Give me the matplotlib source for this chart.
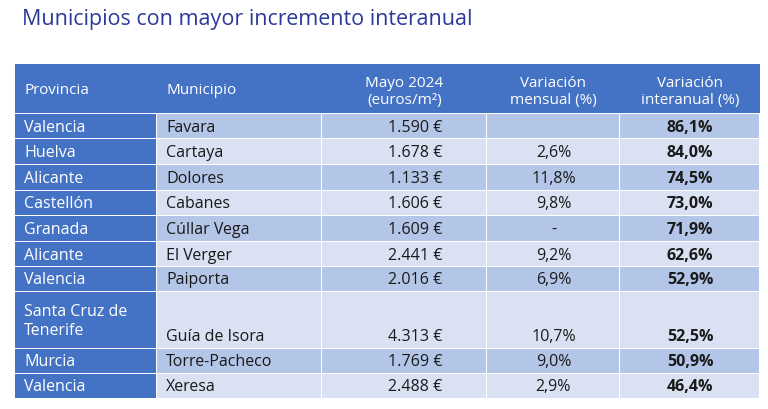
import matplotlib.pyplot as plt
from matplotlib.patches import Rectangle

provincias = ["Valencia", "Huelva", "Alicante", "Castellón", "Granada", "Alicante",
              "Valencia", "Santa Cruz de\nTenerife", "Murcia", "Valencia"]
municipios = ["Favara", "Cartaya", "Dolores", "Cabanes", "Cúllar Vega", "El Verger",
              "Paiporta", "Guía de Isora", "Torre-Pacheco", "Xeresa"]
precios = ["1.590 €", "1.678 €", "1.133 €", "1.606 €", "1.609 €", "2.441 €",
           "2.016 €", "4.313 €", "1.769 €", "2.488 €"]
var_mensual = ["", "2,6%", "11,8%", "9,8%", "-", "9,2%", "6,9%", "10,7%", "9,0%", "2,9%"]
var_interanual = ["86,1%", "84,0%", "74,5%", "73,0%", "71,9%", "62,6%", "52,9%",
                  "52,5%", "50,9%", "46,4%"]
headers = ["Provincia", "Municipio", "Mayo 2024\n(euros/m²)", "Variación\nmensual (%)",
           "Variación\ninteranual (%)"]

plt.rcParams['font.family'] = 'Open Sans'
BLUE = '#4472C4'
DARK = '#B4C6E7'
LIGHT = '#D9E1F2'

fig = plt.figure(figsize=(7.68, 4.10), dpi=100)
ax = fig.add_axes([0, 0, 1, 1])
ax.set_xlim(0, 768)
ax.set_ylim(410, 0)
ax.axis('off')

ax.text(22, 20, "Municipios con mayor incremento interanual", fontsize=15.5,
        color='#2B3A9B', va='center', ha='left')

cols = [15, 157, 322, 487, 620, 760]
rows = [65, 115, 140, 166, 192, 217, 243, 268, 293, 350, 375, 400]
g = 1

# header
ax.add_patch(Rectangle((cols[0], rows[0]), cols[-1] - cols[0], rows[1] - rows[0] - g,
                       color=BLUE, lw=0))
for j, h in enumerate(headers):
    cy = (rows[0] + rows[1]) / 2
    if j < 2:
        ax.text(cols[j] + 9, cy, h, color='white', fontsize=11, va='center', ha='left')
    else:
        ax.text((cols[j] + cols[j + 1]) / 2, cy + 2, h, color='white', fontsize=11,
                va='center', ha='center', linespacing=1.15)

for i in range(len(provincias)):
    y0, y1 = rows[i + 1], rows[i + 2]
    fill = DARK if i % 2 == 0 else LIGHT
    ax.add_patch(Rectangle((cols[0], y0), cols[1] - cols[0] - g, y1 - y0 - g,
                           color=BLUE, lw=0))
    for j in range(1, 5):
        ax.add_patch(Rectangle((cols[j], y0), cols[j + 1] - cols[j] - g, y1 - y0 - g,
                               color=fill, lw=0))
    cy = (y0 + y1) / 2
    ty = y1 - 12.5 if y1 - y0 > 30 else cy
    ax.text(cols[0] + 9, cy, provincias[i], color='white', fontsize=11.5,
            va='center', ha='left', linespacing=1.2)
    ax.text(cols[1] + 9, ty, municipios[i], color='#1a1a1a', fontsize=11.5,
            va='center', ha='left')
    ax.text(cols[3] - 44, ty, precios[i], color='#1a1a1a', fontsize=11.5,
            va='center', ha='right')
    ax.text((cols[3] + cols[4]) / 2, ty, var_mensual[i], color='#1a1a1a', fontsize=11.5,
            va='center', ha='center')
    ax.text((cols[4] + cols[5]) / 2, ty, var_interanual[i], color='#1a1a1a',
            fontsize=11.5, va='center', ha='center', fontweight='bold')

fig.savefig("out.png", dpi=100)
